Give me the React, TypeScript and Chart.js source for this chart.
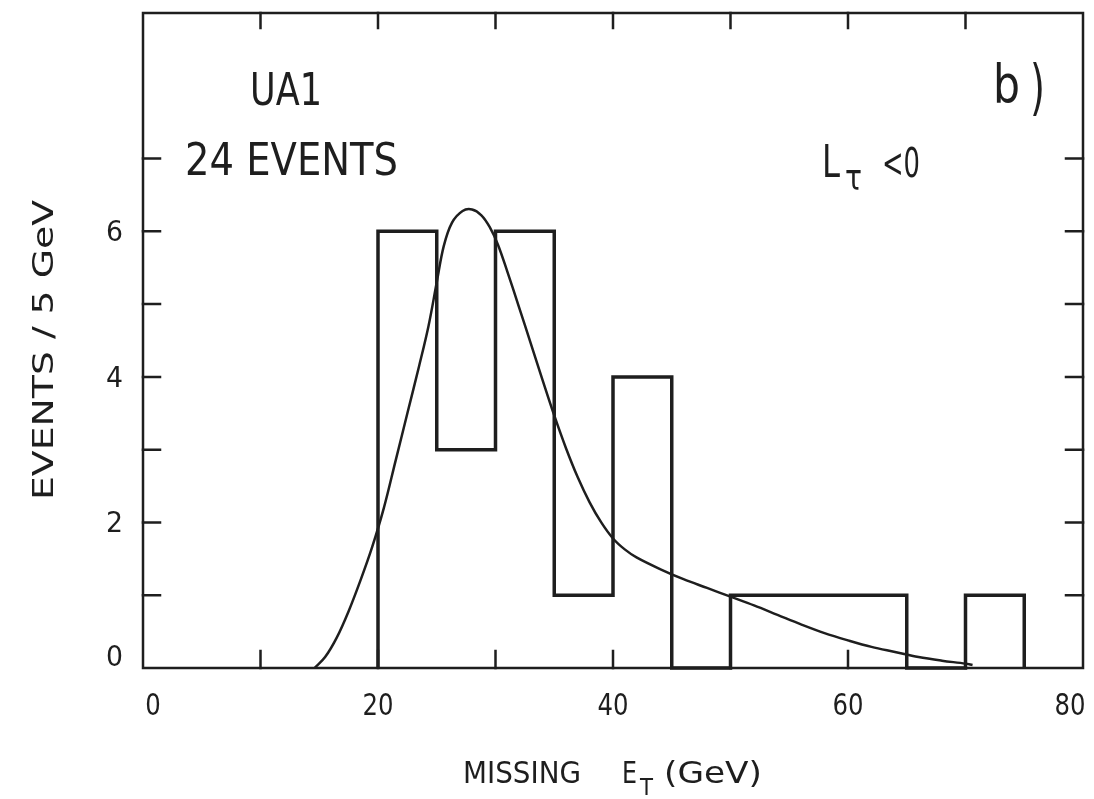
import React, { useEffect, useRef } from "react";
import { Chart, registerables } from "chart.js";

Chart.register(...registerables);

// Missing E_T histogram, 5 GeV bins (lower bin edges and event counts)
const BIN_LOW = [20, 25, 30, 35, 40, 45, 50, 55, 60, 65, 70];
const BIN_WIDTH = 5;
const COUNTS = [6, 3, 6, 1, 4, 0, 1, 1, 1, 0, 1];

// Expected distribution curve (GeV, events / 5 GeV)
const FIT_X = [
  14.6, 15.5, 16.5, 17.5, 18.5, 19.5, 20.5, 21.5, 22.5, 23.5, 24.3, 25, 25.6, 26.3, 27.2, 28, 28.8,
  29.5, 30.2, 31, 32, 33, 34, 35, 36, 37, 38, 39, 40, 41, 42, 44, 46, 48, 50, 52, 54, 56, 58, 60, 62,
  64, 66, 68, 70, 70.6,
];
const FIT_Y = [
  0, 0.15, 0.42, 0.78, 1.2, 1.66, 2.2, 2.85, 3.5, 4.15, 4.7, 5.3, 5.8, 6.12, 6.28, 6.3, 6.22, 6.06,
  5.82, 5.45, 4.96, 4.46, 3.96, 3.47, 3.02, 2.62, 2.28, 2.0, 1.78, 1.63, 1.52, 1.36, 1.22, 1.1, 0.98,
  0.86, 0.73, 0.6, 0.48, 0.38, 0.29, 0.22, 0.15, 0.1, 0.06, 0.04,
];

// Axis ranges, tick marks and labelled values
const X_MIN = 0;
const X_MAX = 80;
const Y_MIN = 0;
const Y_MAX = 9;
const X_TICKS = [10, 20, 30, 40, 50, 60, 70];
const Y_TICKS = [1, 2, 3, 4, 5, 6, 7];
const X_LABELS = [0, 20, 40, 60, 80];
const Y_LABELS = [0, 2, 4, 6];

const INK = "#1e1e1e";
const FONT = '"DejaVu Sans", sans-serif';

// draw text squeezed/stretched horizontally to a given width (plotter lettering)
function fitText(
  ctx: CanvasRenderingContext2D,
  text: string,
  left: number,
  baseline: number,
  width: number,
  size: number
) {
  ctx.save();
  ctx.font = `${size}px ${FONT}`;
  const w = ctx.measureText(text).width || 1;
  ctx.translate(left, baseline);
  ctx.scale(width / w, 1);
  ctx.textAlign = "left";
  ctx.textBaseline = "alphabetic";
  ctx.fillStyle = INK;
  ctx.fillText(text, 0, 0);
  ctx.restore();
}

const framePlugin = {
  id: "plotterFrame",
  afterDraw(chart: any) {
    const { ctx, chartArea } = chart;
    const xs = chart.scales.x;
    const ys = chart.scales.y;
    const { left, right, top, bottom } = chartArea;

    ctx.save();
    ctx.strokeStyle = INK;
    ctx.lineCap = "square";

    // frame
    ctx.lineWidth = 2.5;
    ctx.beginPath();
    ctx.moveTo(left, top);
    ctx.lineTo(right, top);
    ctx.lineTo(right, bottom);
    ctx.lineTo(left, bottom);
    ctx.closePath();
    ctx.stroke();

    // inward ticks on all four sides
    ctx.lineWidth = 2.5;
    ctx.beginPath();
    X_TICKS.forEach((v) => {
      const px = xs.getPixelForValue(v);
      ctx.moveTo(px, bottom);
      ctx.lineTo(px, bottom - 17);
      ctx.moveTo(px, top);
      ctx.lineTo(px, top + 15);
    });
    Y_TICKS.forEach((v) => {
      const py = ys.getPixelForValue(v);
      ctx.moveTo(left, py);
      ctx.lineTo(left + 17, py);
      ctx.moveTo(right, py);
      ctx.lineTo(right - 17, py);
    });
    ctx.stroke();

    // x tick labels
    X_LABELS.forEach((v) => {
      const s = String(v);
      const w = 15.5 * s.length;
      let cx = xs.getPixelForValue(v);
      if (v === X_MIN) cx += 10;
      if (v === X_MAX) cx -= 13;
      fitText(ctx, s, cx - w / 2, 715, w, 30);
    });

    // y tick labels
    Y_LABELS.forEach((v) => {
      const s = String(v);
      const w = 17 * s.length;
      let cy = ys.getPixelForValue(v);
      if (v === Y_MIN) cy -= 12;
      fitText(ctx, s, left - 20 - w, cy + 10, w, 28);
    });

    // axis titles
    fitText(ctx, "MISSING", 463, 783, 118, 30);
    fitText(ctx, "E", 622, 783, 15, 30);
    fitText(ctx, "T", 640, 795, 13, 23);
    fitText(ctx, "(GeV)", 664, 783, 98, 30);

    ctx.save();
    ctx.translate(53, 500);
    ctx.rotate(-Math.PI / 2);
    fitText(ctx, "EVENTS / 5 GeV", 0, 0, 300, 28);
    ctx.restore();

    // annotations
    fitText(ctx, "UA1", 250, 105, 72, 44);
    fitText(ctx, "24 EVENTS", 185, 175, 213, 44);
    fitText(ctx, "b", 993, 103, 27, 54);
    fitText(ctx, ")", 1030, 108, 15, 60);
    fitText(ctx, "L", 822, 177, 18, 44);
    fitText(ctx, "τ", 845, 190, 17, 36);
    fitText(ctx, "<0", 882, 177, 38, 41);

    ctx.restore();
  },
};

export default function App() {
  const canvasRef = useRef<HTMLCanvasElement | null>(null);

  useEffect(() => {
    document.body.style.margin = "0";
    document.body.style.overflow = "hidden";
    const canvas = canvasRef.current;
    if (!canvas) return;

    // histogram outline: rise at first edge, one step per bin, drop at last edge
    const histPoints = [
      { x: BIN_LOW[0], y: 0 },
      ...BIN_LOW.map((x, i) => ({ x, y: COUNTS[i] })),
      { x: BIN_LOW[BIN_LOW.length - 1] + BIN_WIDTH, y: 0 },
    ];
    const fitPoints = FIT_X.map((x, i) => ({ x, y: FIT_Y[i] }));

    const chart = new Chart(canvas, {
      type: "scatter",
      data: {
        datasets: [
          {
            label: "Events",
            data: histPoints,
            showLine: true,
            stepped: "before",
            borderColor: INK,
            borderWidth: 3.5,
            pointRadius: 0,
            fill: false,
            clip: false as any,
          },
          {
            label: "Expected",
            data: fitPoints,
            showLine: true,
            tension: 0.35,
            borderColor: INK,
            borderWidth: 2.5,
            pointRadius: 0,
            fill: false,
            clip: false as any,
          },
        ],
      },
      options: {
        responsive: false,
        animation: false,
        events: [],
        layout: { padding: { left: 143, right: 11, top: 13, bottom: 131 } },
        plugins: {
          legend: { display: false },
          tooltip: { enabled: false },
        },
        scales: {
          x: { type: "linear", min: X_MIN, max: X_MAX, display: false },
          y: { type: "linear", min: Y_MIN, max: Y_MAX, display: false },
        },
      },
      plugins: [framePlugin],
    });

    return () => chart.destroy();
  }, []);

  return (
    <div style={{ width: 1094, height: 799, background: "#fff" }}>
      <canvas ref={canvasRef} width={1094} height={799} />
    </div>
  );
}
